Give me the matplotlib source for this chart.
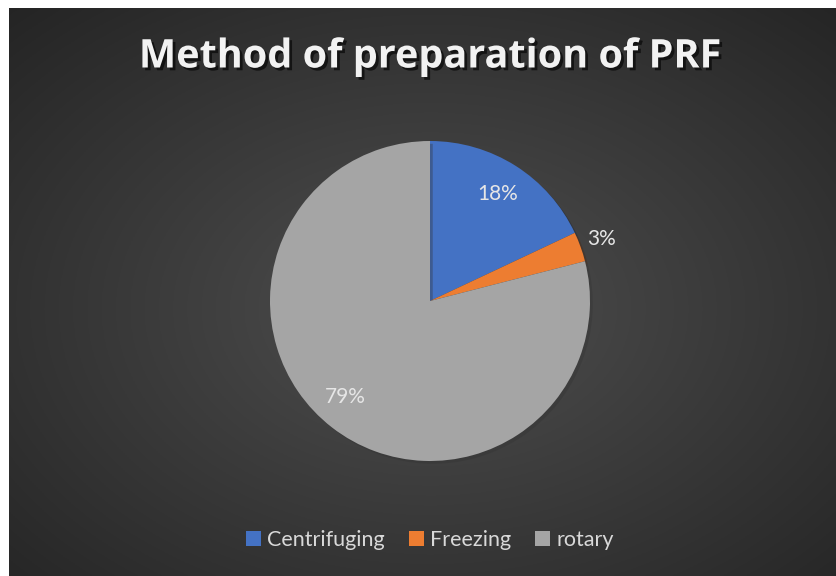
import numpy as np
import matplotlib.pyplot as plt
import matplotlib.patheffects as pe
from matplotlib.patches import Patch

labels = ['Centrifuging', 'Freezing', 'rotary']
shares = [18, 3, 79]
colors = ['#4472C4', '#ED7D31', '#A5A5A5']

W, H = 836, 576
fig = plt.figure(figsize=(W / 100, H / 100), dpi=100)
fig.patch.set_facecolor('white')

# dark radial gradient background
bg = fig.add_axes([9 / W, 0, 1 - 9 / W, 1 - 8 / H])
yy, xx = np.mgrid[0:1:300j, 0:1:400j]
d = np.sqrt(((xx - 0.51) / 0.75) ** 2 + ((yy - 0.47) / 0.75) ** 2)
shade = np.clip(0.31 - 0.17 * d, 0.145, 0.31)
bg.imshow(np.dstack([shade] * 3), extent=[0, 1, 0, 1], aspect='auto', origin='lower')
bg.set_axis_off()

# pie
r = 160
cx, cy = 430, 301
ax = fig.add_axes([(cx - r) / W, (H - cy - r) / H, 2 * r / W, 2 * r / H])
wedges, texts, autotexts = ax.pie(
    shares, colors=colors, startangle=90, counterclock=False, radius=1,
    autopct='%1.0f%%', pctdistance=0.79,
    wedgeprops=dict(linewidth=0, path_effects=[pe.SimplePatchShadow(offset=(2, -2), alpha=0.35), pe.Normal()]),
    textprops=dict(color='#E6E6E6', fontsize=15, family='Lato'))
# small slice label sits outside
ang = np.deg2rad(90 - 360 * (shares[0] + shares[1] / 2) / 100)
autotexts[1].set_position((1.14 * np.cos(ang), 1.14 * np.sin(ang)))
autotexts[2].set_position((-0.53, -0.6))
ax.set_xlim(-1, 1)
ax.set_ylim(-1, 1)
ax.set_axis_off()

fig.text(cx / W, 1 - 57 / H, 'Method of preparation of PRF', ha='center', va='center',
         color='#F2F2F2', fontsize=28.5, fontweight='bold', family='Open Sans',
         path_effects=[pe.withSimplePatchShadow(offset=(2, -2), alpha=0.6, shadow_rgbFace='black')])

handles = [Patch(facecolor=c, edgecolor='none') for c in colors]
leg = fig.legend(handles, labels, loc='center', bbox_to_anchor=(cx / W, 1 - 540 / H), ncol=3,
                 frameon=False, handlelength=0.7, handleheight=0.7,
                 handletextpad=0.3, columnspacing=1.1,
                 prop=dict(family='Lato', size=15.5))
for t in leg.get_texts():
    t.set_color('#D9D9D9')

fig.savefig('out.png', dpi=100, facecolor=fig.get_facecolor())
